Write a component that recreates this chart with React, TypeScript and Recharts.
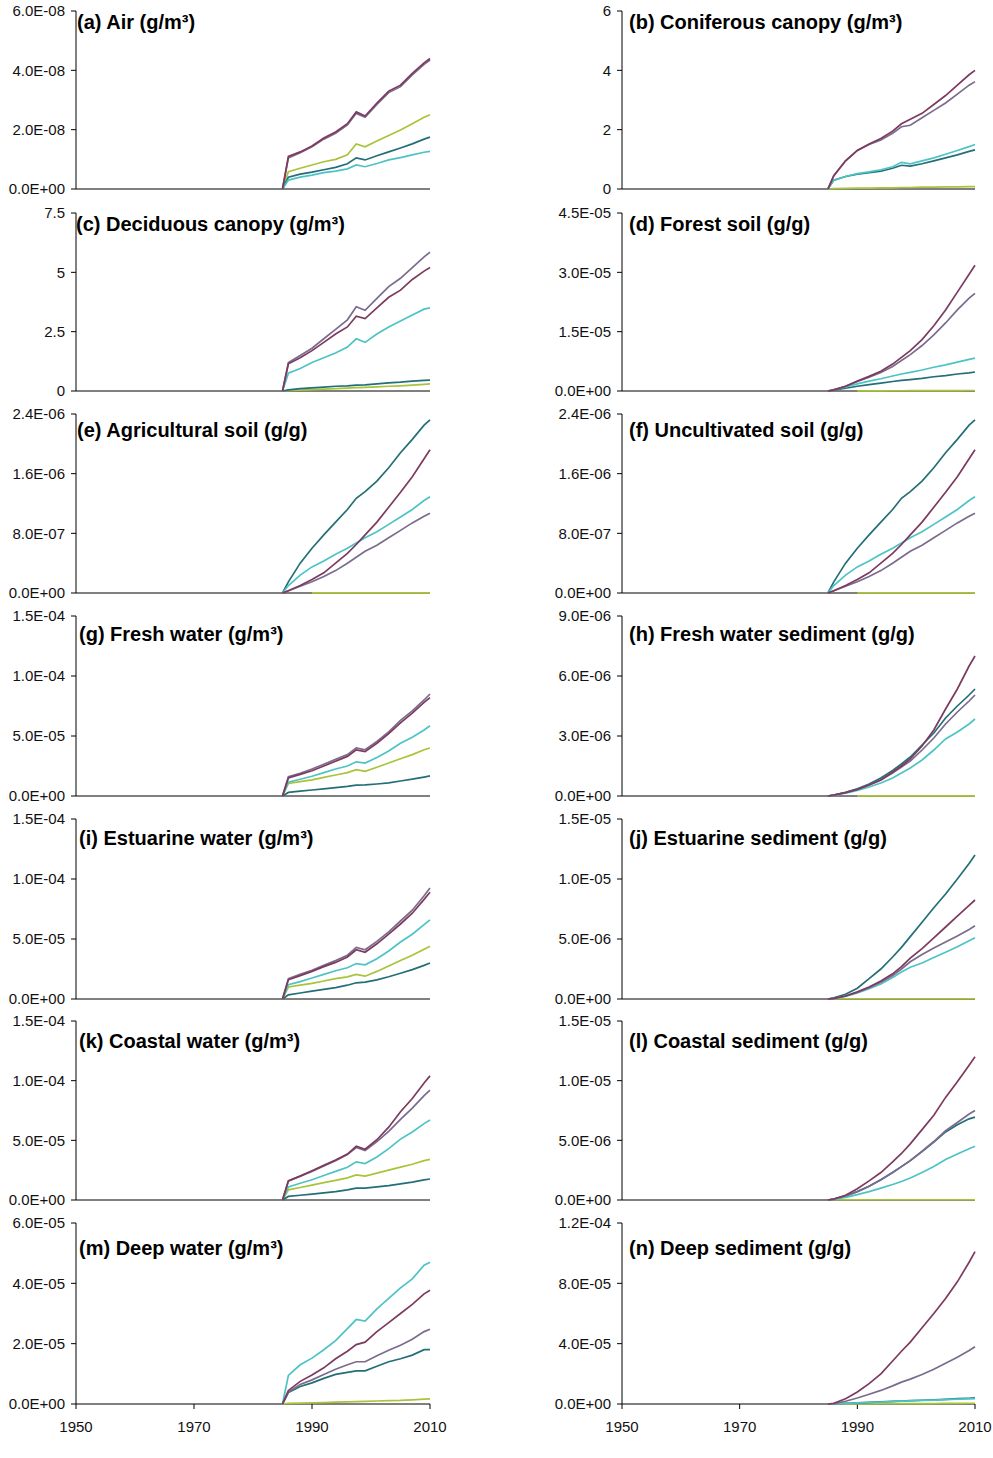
import React from 'react';
import { LineChart, Line, XAxis, YAxis } from 'recharts';

// sample years shared by every panel
const years = [1985, 1986, 1988, 1990, 1992, 1994, 1996, 1997.5, 1999, 2001, 2003, 2005, 2007, 2009, 2010];
const xTicks = [1950, 1970, 1990, 2010];

// values are in the panel's own unit (see panels below)
const air = {
  maroon: [0, 1.1, 1.25, 1.45, 1.72, 1.92, 2.2, 2.6, 2.46, 2.9, 3.3, 3.5, 3.9, 4.25, 4.4],
  purple: [0, 1.05, 1.22, 1.42, 1.68, 1.88, 2.16, 2.55, 2.42, 2.85, 3.25, 3.45, 3.85, 4.2, 4.35],
  cyan: [0, 0.3, 0.4, 0.47, 0.55, 0.6, 0.68, 0.81, 0.75, 0.86, 0.98, 1.06, 1.15, 1.24, 1.27],
  teal: [0, 0.4, 0.5, 0.57, 0.65, 0.73, 0.85, 1.05, 0.98, 1.12, 1.25, 1.38, 1.52, 1.68, 1.75],
  yellow: [0, 0.58, 0.7, 0.81, 0.92, 1.0, 1.15, 1.52, 1.42, 1.62, 1.8, 1.99, 2.2, 2.42, 2.5],
};
const conifer = {
  maroon: [0, 0.45, 0.95, 1.3, 1.52, 1.7, 1.95, 2.2, 2.35, 2.55, 2.85, 3.15, 3.5, 3.85, 4.0],
  purple: [0, 0.45, 0.95, 1.3, 1.5, 1.65, 1.88, 2.1, 2.15, 2.4, 2.65, 2.9, 3.2, 3.5, 3.62],
  cyan: [0, 0.3, 0.42, 0.52, 0.58, 0.65, 0.75, 0.9, 0.85, 0.95, 1.05, 1.17, 1.3, 1.43, 1.5],
  teal: [0, 0.3, 0.42, 0.5, 0.55, 0.6, 0.7, 0.8, 0.77, 0.85, 0.95, 1.05, 1.15, 1.27, 1.32],
  yellow: [0, 0.01, 0.02, 0.03, 0.03, 0.04, 0.04, 0.05, 0.05, 0.06, 0.06, 0.07, 0.07, 0.08, 0.08],
};
const deciduous = {
  maroon: [0, 1.15, 1.4, 1.7, 2.05, 2.4, 2.7, 3.15, 3.05, 3.5, 3.95, 4.25, 4.7, 5.05, 5.2],
  purple: [0, 1.2, 1.5, 1.8, 2.2, 2.6, 3.0, 3.55, 3.4, 3.9, 4.4, 4.75, 5.2, 5.65, 5.85],
  cyan: [0, 0.75, 0.95, 1.2, 1.4, 1.6, 1.85, 2.2, 2.05, 2.4, 2.7, 2.95, 3.2, 3.45, 3.5],
  teal: [0, 0.05, 0.1, 0.13, 0.16, 0.2, 0.22, 0.25, 0.26, 0.3, 0.34, 0.37, 0.42, 0.45, 0.46],
  yellow: [0, 0.02, 0.04, 0.06, 0.08, 0.1, 0.12, 0.14, 0.15, 0.17, 0.2, 0.22, 0.25, 0.28, 0.3],
};
const forestSoil = {
  maroon: [0, 0.03, 0.12, 0.25, 0.37, 0.5, 0.68, 0.85, 1.02, 1.3, 1.65, 2.05, 2.5, 2.95, 3.18],
  purple: [0, 0.03, 0.12, 0.24, 0.35, 0.47, 0.62, 0.77, 0.92, 1.15, 1.42, 1.72, 2.05, 2.35, 2.47],
  cyan: [0, 0.03, 0.1, 0.18, 0.25, 0.31, 0.38, 0.43, 0.47, 0.53, 0.6, 0.66, 0.73, 0.8, 0.83],
  teal: [0, 0.02, 0.07, 0.12, 0.16, 0.2, 0.24, 0.27, 0.29, 0.32, 0.36, 0.39, 0.43, 0.46, 0.48],
  yellow: [null, null, null, 0.005, 0.005, 0.005, 0.006, 0.006, 0.007, 0.008, 0.009, 0.01, 0.011, 0.012, 0.013],
};
const agriSoil = {
  maroon: [0, 0.03, 0.1, 0.18, 0.27, 0.4, 0.53, 0.65, 0.78, 0.95, 1.15, 1.35, 1.56, 1.8, 1.92],
  purple: [0, 0.03, 0.09, 0.15, 0.22, 0.3, 0.4, 0.48, 0.56, 0.64, 0.74, 0.84, 0.94, 1.03, 1.07],
  cyan: [0, 0.1, 0.24, 0.35, 0.43, 0.52, 0.6, 0.67, 0.74, 0.82, 0.92, 1.02, 1.12, 1.24, 1.29],
  teal: [0, 0.15, 0.4, 0.6, 0.78, 0.95, 1.12, 1.27, 1.36, 1.5, 1.68, 1.88, 2.06, 2.25, 2.32],
  yellow: [null, null, null, 0.003, 0.003, 0.003, 0.003, 0.003, 0.003, 0.003, 0.003, 0.003, 0.003, 0.003, 0.003],
};
const uncultSoil = {
  maroon: [0, 0.03, 0.1, 0.18, 0.27, 0.4, 0.53, 0.65, 0.78, 0.95, 1.15, 1.35, 1.56, 1.8, 1.92],
  purple: [0, 0.03, 0.09, 0.15, 0.22, 0.3, 0.4, 0.48, 0.56, 0.64, 0.74, 0.84, 0.94, 1.03, 1.07],
  cyan: [0, 0.1, 0.24, 0.35, 0.43, 0.52, 0.6, 0.67, 0.74, 0.82, 0.92, 1.02, 1.12, 1.24, 1.29],
  teal: [0, 0.15, 0.4, 0.6, 0.78, 0.95, 1.12, 1.27, 1.36, 1.5, 1.68, 1.88, 2.06, 2.25, 2.32],
  yellow: [null, null, null, 0.003, 0.003, 0.003, 0.003, 0.003, 0.003, 0.003, 0.003, 0.003, 0.003, 0.003, 0.003],
};
const freshWater = {
  maroon: [0, 1.5, 1.8, 2.1, 2.5, 2.9, 3.3, 3.85, 3.7, 4.4, 5.2, 6.1, 6.9, 7.8, 8.2],
  purple: [0, 1.6, 1.9, 2.25, 2.65, 3.05, 3.45, 4.0, 3.85, 4.55, 5.35, 6.3, 7.1, 8.0, 8.5],
  cyan: [0, 1.15, 1.4, 1.65, 1.95, 2.25, 2.5, 2.85, 2.75, 3.2, 3.75, 4.4, 4.9, 5.5, 5.85],
  teal: [0, 0.3, 0.4, 0.5, 0.6, 0.7, 0.8, 0.9, 0.92, 1.0, 1.1, 1.25, 1.4, 1.58, 1.67],
  yellow: [0, 1.05, 1.2, 1.35, 1.55, 1.75, 1.95, 2.2, 2.05, 2.4, 2.75, 3.1, 3.45, 3.85, 4.0],
};
const freshSed = {
  maroon: [0, 0.05, 0.17, 0.33, 0.55, 0.8, 1.2, 1.5, 1.85, 2.5, 3.3, 4.35, 5.35, 6.5, 7.0],
  purple: [0, 0.05, 0.17, 0.33, 0.55, 0.8, 1.15, 1.45, 1.75, 2.3, 2.9, 3.6, 4.2, 4.75, 5.05],
  cyan: [0, 0.04, 0.14, 0.28, 0.45, 0.65, 0.9, 1.15, 1.4, 1.8, 2.3, 2.85, 3.2, 3.6, 3.85],
  teal: [0, 0.05, 0.18, 0.36, 0.6, 0.9, 1.28, 1.6, 1.95, 2.55, 3.15, 3.9, 4.5, 5.05, 5.35],
  yellow: [null, null, null, 0.01, 0.01, 0.01, 0.01, 0.01, 0.01, 0.01, 0.01, 0.01, 0.01, 0.01, 0.01],
};
const estWater = {
  maroon: [0, 1.6, 1.95, 2.3, 2.7, 3.05, 3.5, 4.1, 3.9, 4.6, 5.4, 6.25, 7.15, 8.3, 8.9],
  purple: [0, 1.7, 2.05, 2.4, 2.8, 3.2, 3.65, 4.3, 4.1, 4.8, 5.6, 6.5, 7.4, 8.6, 9.25],
  cyan: [0, 1.2, 1.45, 1.75, 2.05, 2.35, 2.6, 2.95, 2.85, 3.35, 4.0, 4.75, 5.4, 6.2, 6.6],
  teal: [0, 0.35, 0.5, 0.65, 0.8, 0.95, 1.15, 1.35, 1.4, 1.6, 1.85, 2.15, 2.45, 2.8, 3.0],
  yellow: [0, 1.0, 1.15, 1.3, 1.5, 1.7, 1.85, 2.05, 1.9, 2.3, 2.75, 3.2, 3.65, 4.15, 4.4],
};
const estSed = {
  maroon: [0, 0.05, 0.25, 0.6, 1.0, 1.5, 2.1, 2.7, 3.4, 4.2, 5.1, 6.0, 6.9, 7.8, 8.25],
  purple: [0, 0.05, 0.25, 0.55, 0.95, 1.4, 1.95, 2.5, 3.1, 3.7, 4.25, 4.75, 5.25, 5.8, 6.1],
  cyan: [0, 0.05, 0.22, 0.5, 0.85, 1.25, 1.8, 2.25, 2.65, 3.0, 3.45, 3.9, 4.35, 4.85, 5.1],
  teal: [0, 0.1, 0.4, 0.9, 1.7, 2.5, 3.5, 4.3, 5.2, 6.4, 7.6, 8.75, 10.0, 11.3, 12.0],
  yellow: [null, 0.02, 0.02, 0.02, 0.02, 0.02, 0.02, 0.02, 0.02, 0.02, 0.02, 0.02, 0.02, 0.02, 0.02],
};
const coastWater = {
  maroon: [0, 1.6, 2.0, 2.45, 2.9, 3.35, 3.85, 4.5, 4.25, 5.05, 6.1, 7.4, 8.5, 9.8, 10.4],
  purple: [0, 1.6, 2.0, 2.4, 2.85, 3.3, 3.8, 4.4, 4.15, 4.9, 5.75, 6.75, 7.7, 8.75, 9.2],
  cyan: [0, 1.1, 1.4, 1.7, 2.05, 2.4, 2.75, 3.2, 3.05, 3.6, 4.3, 5.1, 5.7, 6.4, 6.7],
  teal: [0, 0.3, 0.4, 0.5, 0.6, 0.7, 0.85, 1.0, 1.0, 1.1, 1.2, 1.35, 1.5, 1.68, 1.76],
  yellow: [0, 0.85, 1.05, 1.25, 1.45, 1.65, 1.85, 2.1, 2.0, 2.25, 2.5, 2.75, 3.0, 3.3, 3.4],
};
const coastSed = {
  maroon: [0, 0.08, 0.4, 0.95, 1.6, 2.3, 3.2, 3.9, 4.7, 5.9, 7.1, 8.6, 9.9, 11.3, 12.0],
  purple: [0, 0.08, 0.35, 0.7, 1.15, 1.7, 2.3, 2.8, 3.3, 4.1, 4.9, 5.8, 6.5, 7.2, 7.5],
  cyan: [0, 0.05, 0.22, 0.45, 0.7, 1.0, 1.3, 1.55, 1.85, 2.3, 2.8, 3.4, 3.85, 4.3, 4.5],
  teal: [0, 0.08, 0.35, 0.7, 1.15, 1.7, 2.3, 2.8, 3.3, 4.05, 4.85, 5.7, 6.3, 6.8, 6.95],
  yellow: [null, 0.02, 0.02, 0.02, 0.02, 0.02, 0.02, 0.02, 0.02, 0.02, 0.02, 0.02, 0.02, 0.02, 0.02],
};
const deepWater = {
  maroon: [0, 0.45, 0.75, 0.96, 1.2, 1.5, 1.75, 1.97, 2.05, 2.4, 2.7, 3.0, 3.3, 3.65, 3.77],
  purple: [0, 0.4, 0.65, 0.8, 0.98, 1.15, 1.3, 1.4, 1.4, 1.6, 1.78, 1.95, 2.15, 2.4, 2.48],
  cyan: [0, 0.95, 1.3, 1.52, 1.8, 2.1, 2.5, 2.8, 2.75, 3.15, 3.5, 3.85, 4.15, 4.6, 4.7],
  teal: [0, 0.38, 0.58, 0.7, 0.85, 0.98, 1.05, 1.1, 1.1, 1.25, 1.4, 1.5, 1.62, 1.8, 1.8],
  yellow: [0, 0.02, 0.03, 0.04, 0.05, 0.06, 0.07, 0.08, 0.09, 0.1, 0.11, 0.12, 0.14, 0.16, 0.17],
};
const deepSed = {
  maroon: [0, 0.05, 0.35, 0.8, 1.35, 2.0, 2.85, 3.5, 4.1, 5.05, 6.0, 7.0, 8.1, 9.4, 10.1],
  purple: [0, 0.03, 0.18, 0.4, 0.65, 0.9, 1.2, 1.45, 1.65, 1.95, 2.3, 2.7, 3.1, 3.55, 3.8],
  cyan: [0, 0.01, 0.04, 0.07, 0.1, 0.13, 0.16, 0.19, 0.21, 0.24, 0.26, 0.29, 0.32, 0.34, 0.35],
  teal: [0, 0.01, 0.05, 0.08, 0.11, 0.14, 0.17, 0.2, 0.22, 0.25, 0.28, 0.31, 0.35, 0.38, 0.4],
  yellow: [0, 0.0, 0.01, 0.01, 0.01, 0.02, 0.02, 0.02, 0.03, 0.03, 0.03, 0.04, 0.04, 0.05, 0.05],
};

const colors = {
  yellow: '#a8c43a',
  teal: '#236f77',
  cyan: '#4dc3c6',
  purple: '#7b6b8d',
  maroon: '#7d3a5f',
};
const drawOrder = ['yellow', 'teal', 'cyan', 'purple', 'maroon'];

const panels = [
  { title: '(a) Air (g/m³)', values: air, unit: 1e-8, max: 6, ticks: [0, 2, 4, 6], sci: true },
  { title: '(b) Coniferous canopy (g/m³)', values: conifer, unit: 1, max: 6, ticks: [0, 2, 4, 6], sci: false },
  { title: '(c) Deciduous canopy (g/m³)', values: deciduous, unit: 1, max: 7.5, ticks: [0, 2.5, 5, 7.5], sci: false },
  { title: '(d) Forest soil (g/g)', values: forestSoil, unit: 1e-5, max: 4.5, ticks: [0, 1.5, 3, 4.5], sci: true },
  { title: '(e) Agricultural soil (g/g)', values: agriSoil, unit: 1e-6, max: 2.4, ticks: [0, 0.8, 1.6, 2.4], sci: true },
  { title: '(f) Uncultivated soil (g/g)', values: uncultSoil, unit: 1e-6, max: 2.4, ticks: [0, 0.8, 1.6, 2.4], sci: true },
  { title: '(g) Fresh water (g/m³)', values: freshWater, unit: 1e-5, max: 15, ticks: [0, 5, 10, 15], sci: true },
  { title: '(h) Fresh water sediment (g/g)', values: freshSed, unit: 1e-6, max: 9, ticks: [0, 3, 6, 9], sci: true },
  { title: '(i) Estuarine water (g/m³)', values: estWater, unit: 1e-5, max: 15, ticks: [0, 5, 10, 15], sci: true },
  { title: '(j) Estuarine sediment (g/g)', values: estSed, unit: 1e-6, max: 15, ticks: [0, 5, 10, 15], sci: true },
  { title: '(k) Coastal water (g/m³)', values: coastWater, unit: 1e-5, max: 15, ticks: [0, 5, 10, 15], sci: true },
  { title: '(l) Coastal sediment (g/g)', values: coastSed, unit: 1e-6, max: 15, ticks: [0, 5, 10, 15], sci: true },
  { title: '(m) Deep water (g/m³)', values: deepWater, unit: 1e-5, max: 6, ticks: [0, 2, 4, 6], sci: true },
  { title: '(n) Deep sediment (g/g)', values: deepSed, unit: 1e-5, max: 12, ticks: [0, 4, 8, 12], sci: true },
];

// layout of the grid (page pixels)
const plotTops = [11, 213, 414, 616, 819, 1021, 1223];
const plotBottoms = [189, 391, 593, 796, 999, 1200, 1404];
const titleTops = [12, 214, 420, 624, 828, 1031, 1238];
const leftTitleX = [77, 76, 77, 79, 79, 79, 79];
const font = '"Liberation Sans", Arial, sans-serif';

function sciLabel(v: number) {
  const s = v.toExponential(1).toUpperCase();
  return s.replace(/E([+-])(\d+)$/, (_m, sign, d) => 'E' + sign + d.padStart(2, '0'));
}

function Panel({ p, idx }: { p: any; idx: number }) {
  const row = Math.floor(idx / 2);
  const col = idx % 2;
  const bottomRow = row === plotTops.length - 1;
  const axisH = bottomRow ? 40 : 13;
  const plotH = plotBottoms[row] - plotTops[row];
  const data = years.map((yr, i) => {
    const d: any = { year: yr };
    drawOrder.forEach((k) => {
      d[k] = p.values[k][i];
    });
    return d;
  });
  const tickStyle = { fill: '#111', fontSize: 15, fontFamily: font };
  return (
    <>
      <div style={{ position: 'absolute', left: col === 0 ? 0 : 545, top: plotTops[row] - 11 }}>
        <LineChart width={470} height={plotH + 11 + axisH} data={data} margin={{ top: 11, right: 40, bottom: 0, left: 0 }}>
          <XAxis
            dataKey="year"
            type="number"
            domain={[1950, 2010]}
            ticks={xTicks}
            interval={0}
            height={axisH}
            stroke="#000"
            tickSize={5}
            tickMargin={12}
            tick={bottomRow ? tickStyle : false}
            axisLine={{ stroke: '#000' }}
            tickLine={{ stroke: '#000' }}
          />
          <YAxis
            type="number"
            domain={[0, p.max]}
            ticks={p.ticks}
            interval={0}
            width={col === 0 ? 76 : 77}
            tickSize={5}
            tickMargin={6}
            tick={tickStyle}
            axisLine={{ stroke: '#000' }}
            tickLine={{ stroke: '#000' }}
            tickFormatter={(v: number) => (p.sci ? sciLabel(v * p.unit) : String(v))}
          />
          {drawOrder.map((k) => (
            <Line
              key={k}
              type="linear"
              dataKey={k}
              stroke={colors[k as keyof typeof colors]}
              strokeWidth={1.7}
              dot={false}
              isAnimationActive={false}
              zIndex={600}
            />
          ))}
        </LineChart>
      </div>
      <div
        style={{
          position: 'absolute',
          left: col === 0 ? leftTitleX[row] : 629,
          top: titleTops[row],
          fontFamily: font,
          fontWeight: 'bold',
          fontSize: 20,
          lineHeight: '20px',
          color: '#000',
          whiteSpace: 'nowrap',
        }}
      >
        {p.title}
      </div>
    </>
  );
}

export default function App() {
  return (
    <div style={{ position: 'absolute', left: 0, top: 0, width: 993, height: 1458, background: '#fff' }}>
      {panels.map((p, i) => (
        <Panel key={i} p={p} idx={i} />
      ))}
    </div>
  );
}
